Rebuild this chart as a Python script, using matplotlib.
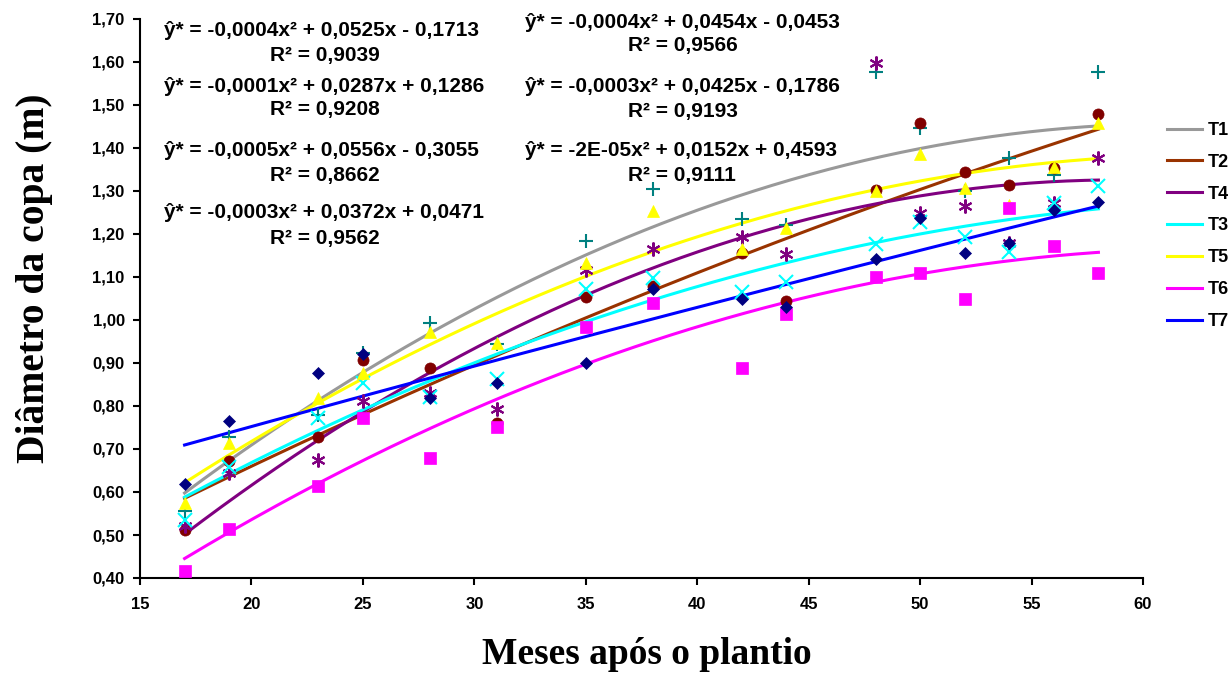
import numpy as np
import matplotlib
matplotlib.use("Agg")
import matplotlib.pyplot as plt
from matplotlib.ticker import FuncFormatter

# months after planting
meses = [17, 19, 23, 25, 28, 31, 35, 38, 42, 44, 48, 50, 52, 54, 56, 58]

# crown diameter (m) per treatment
t1 = [0.556, 0.728, 0.779, 0.923, 0.993, 0.945, 1.184, 1.304, 1.235, 1.222, 1.577, 1.447, 1.301, 1.376, 1.337, 1.577]
t2 = [0.512, 0.672, 0.728, 0.907, 0.888, 0.760, 1.053, 1.079, 1.155, 1.045, 1.302, 1.459, 1.345, 1.315, 1.353, 1.479]
t4 = [0.521, 0.644, 0.674, 0.812, 0.831, 0.793, 1.116, 1.164, 1.194, 1.153, 1.598, 1.248, 1.266, 1.180, 1.271, 1.376]
t3 = [0.535, 0.658, 0.772, 0.853, 0.820, 0.863, 1.071, 1.097, 1.064, 1.089, 1.177, 1.229, 1.194, 1.159, 1.271, 1.312]
t5 = [0.574, 0.714, 0.819, 0.877, 0.973, 0.946, 1.132, 1.254, 1.165, 1.213, 1.300, 1.386, 1.308, 1.267, 1.355, 1.457]
t6 = [0.416, 0.514, 0.614, 0.772, 0.680, 0.752, 0.984, 1.040, 0.888, 1.013, 1.101, 1.110, 1.049, 1.260, 1.172, 1.110]
t7 = [0.619, 0.765, 0.877, 0.920, 0.818, 0.853, 0.899, 1.071, 1.049, 1.030, 1.142, 1.237, 1.155, 1.178, 1.256, 1.275]

series = [
    ("T1", t1, "+", "#008080", "#999999"),
    ("T2", t2, "o", "#800000", "#993300"),
    ("T4", t4, (6, 2, 0), "#800080", "#800080"),
    ("T3", t3, "x", "#00FFFF", "#00FFFF"),
    ("T5", t5, "^", "#FFFF00", "#FFFF00"),
    ("T6", t6, "s", "#FF00FF", "#FF00FF"),
    ("T7", t7, "D", "#000080", "#0000FF"),
]

eq_left = [
    ("ŷ* = -0,0004x² + 0,0525x - 0,1713", "R² = 0,9039"),
    ("ŷ* = -0,0001x² + 0,0287x + 0,1286", "R² = 0,9208"),
    ("ŷ* = -0,0005x² + 0,0556x - 0,3055", "R² = 0,8662"),
    ("ŷ* = -0,0003x² + 0,0372x + 0,0471", "R² = 0,9562"),
]
eq_right = [
    ("ŷ* = -0,0004x² + 0,0454x - 0,0453", "R² = 0,9566"),
    ("ŷ* = -0,0003x² + 0,0425x - 0,1786", "R² = 0,9193"),
    ("ŷ* = -2E-05x² + 0,0152x + 0,4593", "R² = 0,9111"),
]

W, H = 1231, 673
fig = plt.figure(figsize=(W / 100, H / 100), dpi=100)
ax = fig.add_axes([140 / W, 1 - 578 / H, (1143 - 140) / W, (578 - 19) / H])

x = np.array(meses, dtype=float)
xs = np.linspace(x.min(), x.max(), 200)
lines = []
for name, y, mk, mc, lc in series:
    coef = np.polyfit(x, np.array(y), 2)
    ln, = ax.plot(xs, np.polyval(coef, xs), color=lc, lw=2.2, label=name, zorder=2)
    lines.append(ln)
    if mk == "D":
        ms = 6.5
    elif mk in ("o", "s", "^"):
        ms = 8
    else:
        ms = 10
    ax.plot(x, y, ls="none", marker=mk, color=mc, markersize=ms,
            markeredgewidth=1.5 if mk in ("+", "x", (6, 2, 0)) else 0.5, zorder=3)

ax.set_xlim(15, 60)
ax.set_ylim(0.40, 1.70)
ax.set_xticks(np.arange(15, 61, 5))
ax.set_yticks(np.arange(0.40, 1.701, 0.10))
ax.yaxis.set_major_formatter(FuncFormatter(lambda v, p: f"{v:.2f}".replace(".", ",")))
for s in ("top", "right"):
    ax.spines[s].set_visible(False)
for s in ("left", "bottom"):
    ax.spines[s].set_linewidth(1.5)
ax.tick_params(direction="out", length=5, width=1.5, labelsize=12, pad=6)
ax.tick_params(axis="x", pad=9)
for lab in ax.get_xticklabels() + ax.get_yticklabels():
    lab.set_fontweight("bold")
    lab.set_fontfamily("Liberation Sans")

ax.set_xlabel("Meses após o plantio", fontsize=27, fontweight="bold",
              fontfamily="Liberation Serif", va="center")
ax.set_ylabel("Diâmetro da copa (m)", fontsize=28.5, fontweight="bold",
              fontfamily="Liberation Serif", va="center")
ax.xaxis.set_label_coords((647 - 140) / 1003, (578 - 655) / 559)
ax.yaxis.set_label_coords((35 - 140) / 1003, (578 - 278) / 559)

tkw = dict(fontsize=15, fontweight="bold", fontfamily="Liberation Sans", va="center")
for (eq, r2), (y1, y2) in zip(eq_left, [(30, 56), (86, 110), (151, 176), (213, 238)]):
    fig.text(164 / W, 1 - y1 / H, eq, ha="left", **tkw)
    fig.text(325 / W, 1 - y2 / H, r2, ha="center", **tkw)
for (eq, r2), (y1, y2) in zip(eq_right, [(22, 46), (87, 112), (151, 175)]):
    fig.text(525 / W, 1 - y1 / H, eq, ha="left", **tkw)
    fig.text(628 / W, 1 - y2 / H, r2, ha="left", **tkw)

fig.legend(handles=lines, loc="upper right", bbox_to_anchor=(1229 / W, 1 - 122 / H),
           frameon=False, prop={"family": "Liberation Sans", "weight": "bold", "size": 13},
           handlelength=1.9, handletextpad=0.35, labelspacing=0.82,
           borderaxespad=0, borderpad=0)

fig.savefig("out.png", dpi=100)
